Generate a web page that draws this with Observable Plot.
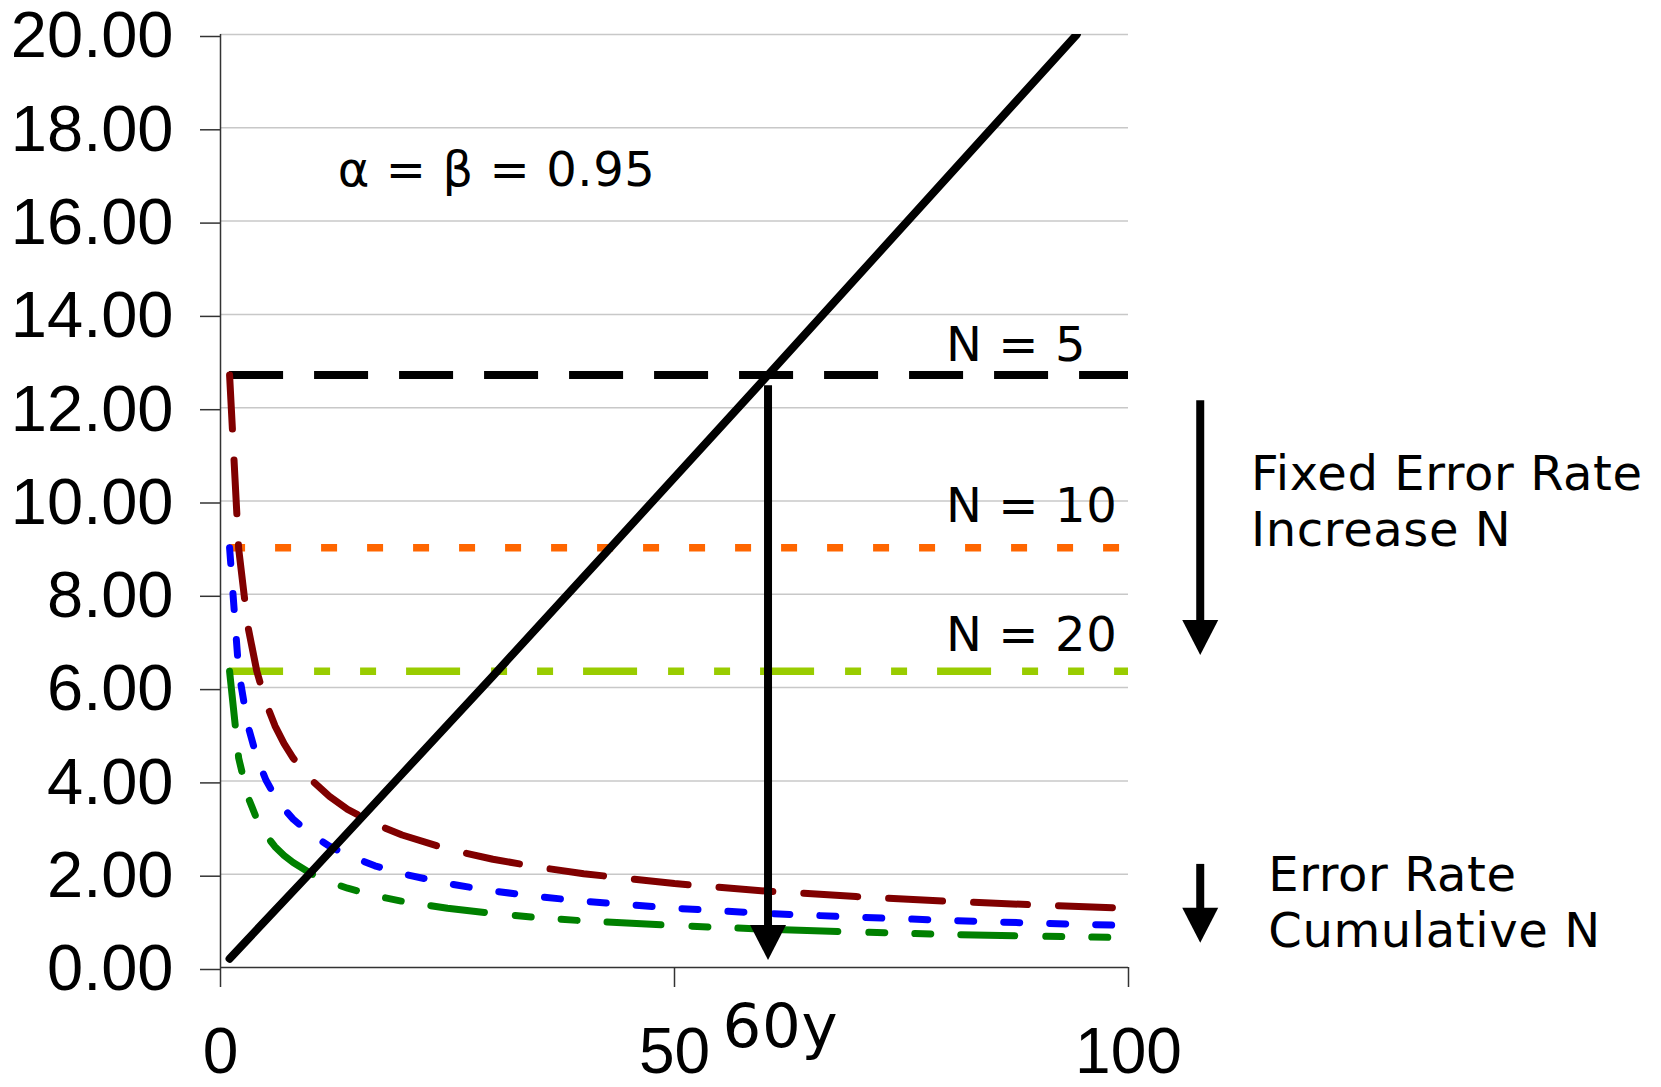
<!DOCTYPE html>
<html>
<head>
<meta charset="utf-8">
<script src="https://cdn.jsdelivr.net/npm/d3@7"></script>
<script src="https://cdn.jsdelivr.net/npm/@observablehq/plot@0.6"></script>
<style>
  html, body { margin: 0; padding: 0; background: #ffffff; }
  #chart svg { display: block; }
</style>
</head>
<body>
<div id="chart"></div>
<script>
// ---- tick values ----
const xTicks = [0, 50, 100];
const yTicks = [0, 2, 4, 6, 8, 10, 12, 14, 16, 18, 20];
const gridTicks = [2, 4, 6, 8, 10, 12, 14, 16, 18, 20];

// ---- fixed error rate levels (horizontal lines, x = 1..100) ----
const fixedN = ["N = 5", "N = 10", "N = 20"];
const fixedLevel = [12.7, 9.0, 6.35];
const fixedStart = [1, 1, 1];
const fixedEnd = [100, 100, 100];

// ---- cumulative-N error rate curves ----
const cumX   = [1, 2, 3, 4, 5, 6, 7, 8, 10, 12, 14, 17, 20, 25, 30, 35, 40, 50, 60, 70, 80, 90, 100];
const cumN5  = [12.7, 8.98, 7.33, 6.35, 5.68, 5.18, 4.80, 4.49, 4.02, 3.67, 3.39, 3.08, 2.84, 2.54, 2.32, 2.15, 2.01, 1.80, 1.64, 1.52, 1.42, 1.34, 1.27];
const cumN10 = [9.00, 6.36, 5.20, 4.50, 4.02, 3.67, 3.40, 3.18, 2.85, 2.60, 2.41, 2.18, 2.01, 1.80, 1.64, 1.52, 1.42, 1.27, 1.16, 1.08, 1.01, 0.95, 0.90];
const cumN20 = [6.35, 4.49, 3.67, 3.18, 2.84, 2.59, 2.40, 2.25, 2.01, 1.83, 1.70, 1.54, 1.42, 1.27, 1.16, 1.07, 1.00, 0.90, 0.82, 0.76, 0.71, 0.67, 0.64];

// ---- rising straight line ----
const riseX = [1, 10, 20, 30, 42, 60.3, 94.3];
const riseY = [0.19, 2.05, 4.15, 6.25, 8.8, 12.7, 20.0];

// ---- arrows (annotation, in data units) ----
const arrowX   = [60.3, 107.9, 107.9];
const arrowTop = [12.47, 12.15, 2.21];
const arrowTip = [0.16, 6.70, 0.53];

// ---- annotation texts ----
const noteText = ["α = β = 0.95", "N = 5", "N = 10", "N = 20", "Fixed Error Rate", "Increase N", "Error Rate", "Cumulative N"];
const noteX    = [12.9, 79.9, 79.9, 79.9, 113.5, 113.5, 115.4, 115.4];
const noteY    = [16.75, 13.0, 9.55, 6.79, 10.23, 9.03, 1.64, 0.43];

const markLabel = ["60y"];
const markLabelX = [55.3];
const markLabelY = [-1.71];

// ---- tables built from the arrays ----
const cumTable = (ys) => cumX.map((x, i) => ({x, y: ys[i]}));
const fixedRow = (i) => [{x1: fixedStart[i], x2: fixedEnd[i], y: fixedLevel[i]}];
const rise = riseX.map((x, i) => ({x, y: riseY[i]}));
const arrows = arrowX.map((x, i) => ({x, top: arrowTop[i], tip: arrowTip[i], base: arrowTip[i] + 0.6}));
const notes = noteText.map((t, i) => ({text: t, x: noteX[i], y: noteY[i]}));
const labels = markLabel.map((t, i) => ({text: t, x: markLabelX[i], y: markLabelY[i]}));

// downward isosceles triangle: tip at the anchor point
const headDown = {
  draw(ctx, size) {
    const r = Math.sqrt(size / Math.PI);
    ctx.moveTo(0, 0);
    ctx.lineTo(-r, -1.94 * r);
    ctx.lineTo(r, -1.94 * r);
    ctx.closePath();
  }
};

const LONG = "54,31";
const DOT = "16,30";
const DASHDOTDOT = "54,31,16,30,16,30";
const noteFont = "DejaVu Sans, Verdana, sans-serif";

const chart = Plot.plot({
  width: 1661,
  height: 1087,
  marginLeft: 220,
  marginRight: 533,
  marginTop: 34,
  marginBottom: 120,
  x: {domain: [0, 100]},
  y: {domain: [0, 20]},
  style: {background: "#ffffff", color: "#000000", fontFamily: "Liberation Sans, Arial, sans-serif", overflow: "visible"},
  marks: [
    Plot.gridY(gridTicks, {stroke: "#c8c8c8", strokeOpacity: 1, strokeWidth: 1.5}),
    Plot.ruleX([0], {stroke: "#333333", strokeWidth: 1.5}),
    Plot.ruleY([0], {stroke: "#333333", strokeWidth: 1.5}),
    Plot.axisY(yTicks, {tickSize: 20, tickPadding: 27, tickFormat: (d) => d.toFixed(2), fontSize: 65, stroke: "#333333", strokeWidth: 1.5, label: null, dy: 2}),
    Plot.axisX(xTicks, {tickSize: 20, tickPadding: 40, fontSize: 64, stroke: "#333333", strokeWidth: 1.5, label: null}),

    // fixed error rate lines
    Plot.ruleY(fixedRow(0), {x1: "x1", x2: "x2", y: "y", stroke: "#000000", strokeWidth: 8, strokeDasharray: LONG}),
    Plot.ruleY(fixedRow(1), {x1: "x1", x2: "x2", y: "y", stroke: "#ff6600", strokeWidth: 7.5, strokeDasharray: DOT}),
    Plot.ruleY(fixedRow(2), {x1: "x1", x2: "x2", y: "y", stroke: "#99cc00", strokeWidth: 7.5, strokeDasharray: DASHDOTDOT}),

    // cumulative curves
    Plot.line(cumTable(cumN5),  {x: "x", y: "y", stroke: "#800000", strokeWidth: 7, strokeDasharray: LONG, curve: "linear"}),
    Plot.line(cumTable(cumN10), {x: "x", y: "y", stroke: "#0000ff", strokeWidth: 7, strokeDasharray: DOT, curve: "linear"}),
    Plot.line(cumTable(cumN20), {x: "x", y: "y", stroke: "#008000", strokeWidth: 7, strokeDasharray: DASHDOTDOT, curve: "linear"}),

    // rising line
    Plot.line(rise, {x: "x", y: "y", stroke: "#000000", strokeWidth: 8, strokeLinecap: "round", clip: true}),

    // arrows
    Plot.ruleX(arrows, {x: "x", y1: "top", y2: "base", stroke: "#000000", strokeWidth: 8}),
    Plot.dot(arrows, {x: "x", y: "tip", symbol: headDown, r: 18, fill: "#000000", stroke: null}),

    // texts
    Plot.text(notes, {x: "x", y: "y", text: "text", textAnchor: "start", lineAnchor: "bottom", fontSize: 48, fontFamily: noteFont, fill: "#000000"}),
    Plot.text(labels, {x: "x", y: "y", text: "text", textAnchor: "start", lineAnchor: "bottom", fontSize: 61, fontFamily: noteFont, fill: "#000000"})
  ]
});

d3.select(chart).selectAll('g[aria-label="text"] text').style("letter-spacing", "0.6px");

document.getElementById("chart").appendChild(chart);
</script>
</body>
</html>
